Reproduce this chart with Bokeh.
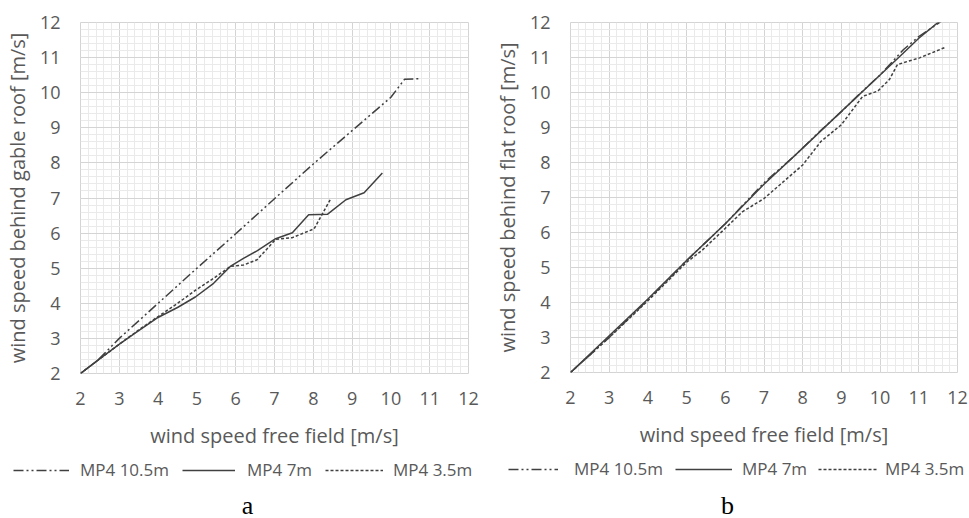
from bokeh.plotting import figure
from bokeh.layouts import row, column
from bokeh.models import Range1d, SingleIntervalTicker, Legend, LegendItem, Label
from bokeh.embed import file_html
from bokeh.resources import INLINE

# Panel a: wind speed behind the gable roof vs. free field
gable_105_x = [2.0, 2.43, 3.0, 4.0, 5.0, 6.0, 7.0, 8.0, 9.0, 9.8, 10.0, 10.35, 10.75]
gable_105_y = [2.0, 2.36, 3.0, 4.0, 5.0, 5.98, 6.98, 7.97, 8.92, 9.68, 9.87, 10.38, 10.4]
gable_7_x = [2.0, 2.45, 3.03, 3.5, 3.97, 4.5, 4.96, 5.43, 5.86, 6.2, 6.56, 7.03, 7.46, 7.88, 8.37, 8.84, 9.31, 9.78]
gable_7_y = [2.0, 2.38, 2.86, 3.22, 3.58, 3.88, 4.18, 4.57, 5.05, 5.28, 5.5, 5.84, 6.01, 6.52, 6.54, 6.95, 7.15, 7.71]
gable_35_x = [2.0, 2.45, 3.03, 3.5, 3.97, 4.49, 4.96, 5.43, 5.86, 6.2, 6.55, 7.03, 7.46, 8.02, 8.45]
gable_35_y = [2.0, 2.38, 2.86, 3.24, 3.6, 3.99, 4.37, 4.71, 5.05, 5.09, 5.24, 5.82, 5.87, 6.12, 6.98]

# Panel b: wind speed behind the flat roof vs. free field
flat_105_x = [2.0, 3.0, 4.0, 5.0, 6.0, 7.0, 7.8, 8.5, 9.0, 9.5, 10.0, 10.6, 11.0, 11.6]
flat_105_y = [2.0, 3.0, 4.08, 5.2, 6.25, 7.42, 8.2, 8.95, 9.45, 9.99, 10.5, 11.22, 11.6, 12.05]
flat_7_x = [2.0, 3.0, 4.0, 5.0, 6.0, 7.0, 8.0, 9.0, 10.0, 10.5, 11.0, 11.55]
flat_7_y = [2.0, 3.05, 4.1, 5.2, 6.25, 7.38, 8.41, 9.46, 10.5, 11.02, 11.55, 12.05]
flat_35_x = [2.0, 3.0, 4.0, 5.0, 5.4, 6.0, 6.44, 7.0, 8.0, 8.47, 9.0, 9.55, 9.94, 10.24, 10.45, 11.02, 11.66]
flat_35_y = [2.0, 3.0, 4.05, 5.15, 5.49, 6.12, 6.59, 6.97, 7.93, 8.6, 9.08, 9.89, 10.04, 10.37, 10.8, 10.99, 11.28]

series_names = ["MP4 10.5m", "MP4 7m", "MP4 3.5m"]
axis_min, axis_max = 2, 12
x_title = "wind speed free field [m/s]"

LINE_COLOR = "#404040"
TEXT_COLOR = "#595959"
FONT = "Open Sans"

STYLES = [
    dict(line_dash="10 3 2 3 2 3", line_width=1.5),
    dict(line_dash="solid", line_width=1.5),
    dict(line_dash="3 2", line_width=1.5),
]

CHART_H = 450   # height of the chart row; legend + caption strip sits below
STRIP_H = 518 - CHART_H


def make_chart(series, y_title, border_left, border_right, border_top, frame_w, frame_h):
    p = figure(
        frame_width=frame_w, frame_height=frame_h,
        min_border_left=border_left, min_border_right=border_right,
        min_border_top=border_top, min_border_bottom=CHART_H - border_top - frame_h,
        x_range=Range1d(axis_min, axis_max), y_range=Range1d(axis_min, axis_max),
        output_backend="svg", toolbar_location=None,
    )
    p.background_fill_color = "white"
    p.border_fill_color = "white"
    p.outline_line_color = "#d4d4d4"

    for ax in (p.xaxis[0], p.yaxis[0]):
        ax.ticker = SingleIntervalTicker(interval=1, num_minor_ticks=5)
        ax.axis_line_color = None
        ax.major_tick_line_color = None
        ax.minor_tick_line_color = None
        ax.major_tick_in = 0
        ax.major_tick_out = 0
        ax.minor_tick_in = 0
        ax.minor_tick_out = 0
        ax.major_label_text_font = FONT
        ax.major_label_text_font_size = "18px"
        ax.major_label_text_color = TEXT_COLOR
        ax.axis_label_text_font = FONT
        ax.axis_label_text_font_size = "20px"
        ax.axis_label_text_font_style = "normal"
        ax.axis_label_text_color = TEXT_COLOR

    p.xaxis.axis_label = x_title
    p.yaxis.axis_label = y_title
    p.xaxis.major_label_standoff = 18
    p.xaxis.axis_label_standoff = 14
    p.yaxis.major_label_standoff = 20
    p.yaxis.axis_label_standoff = 6

    for g in (p.xgrid[0], p.ygrid[0]):
        g.grid_line_color = "#d4d4d4"
        g.grid_line_width = 1
        g.minor_grid_line_color = "#eaeaea"
        g.minor_grid_line_width = 1

    for (xs, ys), st in zip(series, STYLES):
        p.line(xs, ys, line_color=LINE_COLOR, **st)
    return p


def make_strip(width, series, key_x, key_w, key_gap, legend_y, caption, caption_x):
    # legend keys and the panel letter, drawn in a frameless strip under the chart
    s = figure(
        frame_width=width, frame_height=STRIP_H,
        min_border_left=0, min_border_right=0, min_border_top=0, min_border_bottom=0,
        x_axis_location=None, y_axis_location=None,
        x_range=Range1d(0, width), y_range=Range1d(0, STRIP_H),
        output_backend="svg", toolbar_location=None,
    )
    s.outline_line_color = None
    s.background_fill_color = "white"
    s.border_fill_color = "white"
    s.xgrid.visible = False
    s.ygrid.visible = False

    # the series live on a range that keeps them out of view; only their legend keys show
    s.extra_y_ranges = {"keys": Range1d(100, 101)}
    for (xs, ys), name, st, kx, kw, kg in zip(series, series_names, STYLES, key_x, key_w, key_gap):
        r = s.line(xs, ys, line_color=LINE_COLOR, y_range_name="keys", **st)
        legend = Legend(
            items=[LegendItem(label=name, renderers=[r])], location=(kx, legend_y),
            glyph_width=kw, glyph_height=20, label_height=20, label_standoff=kg,
            padding=0, margin=0, spacing=0,
            label_text_font=FONT, label_text_font_size="17px", label_text_color=TEXT_COLOR,
            background_fill_alpha=0, border_line_alpha=0,
        )
        s.add_layout(legend, "center")

    s.add_layout(Label(
        x=caption_x, y=0, x_units="screen", y_units="screen", text=caption,
        text_font="Liberation Serif", text_font_size="26px", text_color="black",
        text_align="center", text_baseline="bottom",
    ))
    return s


gable_series = [(gable_105_x, gable_105_y), (gable_7_x, gable_7_y), (gable_35_x, gable_35_y)]
flat_series = [(flat_105_x, flat_105_y), (flat_7_x, flat_7_y), (flat_35_x, flat_35_y)]

p1 = make_chart(gable_series, "wind speed behind gable roof [m/s]",
                border_left=78, border_right=18, border_top=22, frame_w=388, frame_h=351)
p2 = make_chart(flat_series, "wind speed behind flat roof [m/s]",
                border_left=84, border_right=14, border_top=19, frame_w=387, frame_h=350)
s1 = make_strip(484, gable_series, key_x=[13, 182, 325], key_w=[56, 53, 58], key_gap=[11, 12, 10],
                legend_y=38, caption="a", caption_x=247)
s2 = make_strip(485, flat_series, key_x=[24, 191, 334], key_w=[50, 57, 60], key_gap=[16, 10, 7],
                legend_y=39, caption="b", caption_x=243)

layout = column(row(p1, p2), row(s1, s2))
open("out.html", "w").write(file_html(layout, INLINE))
